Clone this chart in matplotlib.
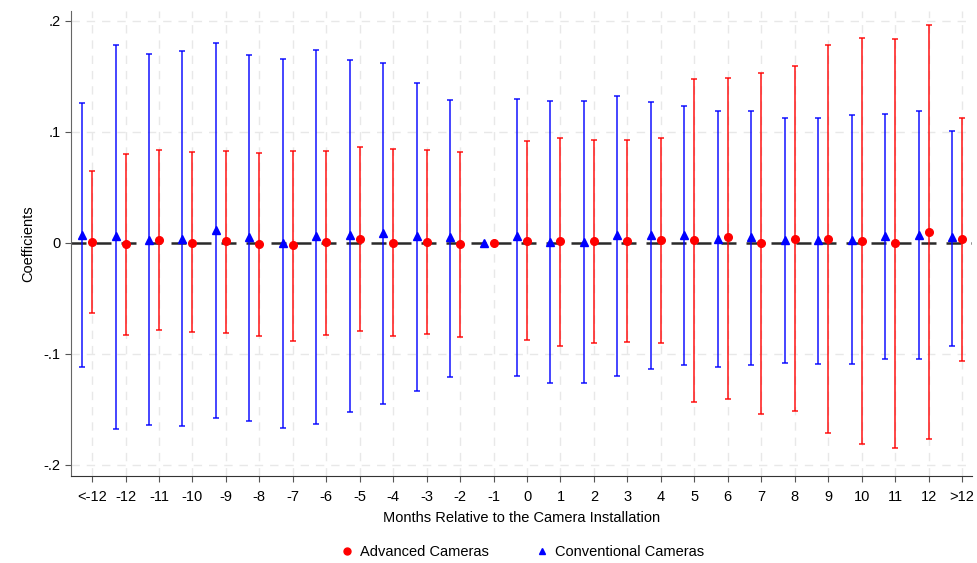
import numpy as np
import matplotlib.pyplot as plt
from matplotlib.lines import Line2D

plt.rcParams['font.family'] = ['Liberation Sans', 'DejaVu Sans']

months = ["<-12", "-12", "-11", "-10", "-9", "-8", "-7", "-6", "-5", "-4", "-3",
          "-2", "-1", "0", "1", "2", "3", "4", "5", "6", "7", "8", "9", "10",
          "11", "12", ">12"]

# Advanced cameras (red circles)
adv_coef = [0.001, -0.001, 0.003, 0.000, 0.002, -0.001, -0.002, 0.001, 0.004,
            0.000, 0.001, -0.001, 0.000, 0.002, 0.002, 0.002, 0.002, 0.003,
            0.003, 0.005, 0.000, 0.004, 0.004, 0.002, 0.000, 0.010, 0.004]
adv_hi = [0.065, 0.080, 0.084, 0.082, 0.083, 0.081, 0.083, 0.083, 0.086,
          0.085, 0.084, 0.082, 0.000, 0.092, 0.095, 0.093, 0.093, 0.095,
          0.148, 0.149, 0.153, 0.159, 0.178, 0.185, 0.184, 0.196, 0.113]
adv_lo = [-0.063, -0.083, -0.078, -0.080, -0.081, -0.084, -0.088, -0.083,
          -0.079, -0.084, -0.082, -0.085, 0.000, -0.087, -0.093, -0.090,
          -0.089, -0.090, -0.143, -0.141, -0.154, -0.151, -0.171, -0.181,
          -0.185, -0.177, -0.106]

# Conventional cameras (blue triangles)
conv_coef = [0.007, 0.006, 0.003, 0.004, 0.012, 0.005, 0.000, 0.006, 0.007,
             0.009, 0.006, 0.005, 0.000, 0.006, 0.001, 0.001, 0.007, 0.007,
             0.007, 0.004, 0.005, 0.003, 0.003, 0.003, 0.006, 0.007, 0.005]
conv_hi = [0.126, 0.178, 0.170, 0.173, 0.180, 0.169, 0.166, 0.174, 0.165,
           0.162, 0.144, 0.129, 0.000, 0.130, 0.128, 0.128, 0.132, 0.127,
           0.123, 0.119, 0.119, 0.113, 0.113, 0.115, 0.116, 0.119, 0.101]
conv_lo = [-0.112, -0.168, -0.164, -0.165, -0.158, -0.160, -0.167, -0.163,
           -0.152, -0.145, -0.133, -0.121, 0.000, -0.120, -0.126, -0.126,
           -0.120, -0.114, -0.110, -0.112, -0.110, -0.108, -0.109, -0.109,
           -0.105, -0.105, -0.093]

RED = "#ff0000"
BLUE = "#0000ff"

x = np.arange(len(months))
fig = plt.figure(figsize=(9.78, 5.63), dpi=100)
ax = fig.add_axes([0.0726, 0.1545, 0.9213, 0.826])

# grid
for xi in x:
    ax.axvline(xi, color="#e8e8e8", lw=1.0, ls=(0, (6, 5)), zorder=0)
for yv in [-0.2, -0.1, 0.1, 0.2]:
    ax.axhline(yv, color="#e8e8e8", lw=1.0, ls=(0, (6, 5)), zorder=0)
ax.axhline(0, color="#2a2a2a", lw=1.8, ls=(0, (6, 4)), zorder=1)


def draw(xs, coef, lo, hi, color, marker, ms):
    coef = np.array(coef)
    lo = np.array(lo)
    hi = np.array(hi)
    mask = (hi - lo) > 0
    ax.errorbar(xs[mask], coef[mask],
                yerr=[coef[mask] - lo[mask], hi[mask] - coef[mask]],
                fmt="none", ecolor=color, elinewidth=1.2, capsize=2,
                capthick=1.2, alpha=0.85, zorder=2)
    ax.plot(xs, coef, ls="none", marker=marker, color=color, ms=ms, zorder=3)


draw(x - 0.3, conv_coef, conv_lo, conv_hi, BLUE, "^", 5.5)
draw(x, adv_coef, adv_lo, adv_hi, RED, "o", 5.5)

ax.set_xlim(-0.63, 26.3)
ax.set_ylim(-0.21, 0.209)
ax.set_xticks(x)
ax.set_xticklabels(months)
ax.set_yticks([-0.2, -0.1, 0, 0.1, 0.2])
ax.set_yticklabels(["-.2", "-.1", "0", ".1", ".2"])
ax.tick_params(labelsize=10.5, length=4, color="#555555")
ax.tick_params(axis="x", pad=6)
for s in ["top", "right"]:
    ax.spines[s].set_visible(False)
ax.spines["left"].set_color("#666666")
ax.spines["bottom"].set_color("#333333")
ax.set_xlabel("Months Relative to the Camera Installation", fontsize=10.5,
              labelpad=5)
ax.set_ylabel("Coefficients", fontsize=10.5, labelpad=6)

handles = [
    Line2D([], [], ls="none", marker="o", color=RED, ms=5),
    Line2D([], [], ls="none", marker="^", color=BLUE, ms=5),
]
fig.legend(handles, ["Advanced Cameras", "Conventional Cameras"],
           loc="center", bbox_to_anchor=(0.533, 0.02), ncol=2, frameon=False,
           fontsize=10.5, handletextpad=0.3, columnspacing=3, handlelength=1.2)

fig.savefig("out.png", dpi=100)
